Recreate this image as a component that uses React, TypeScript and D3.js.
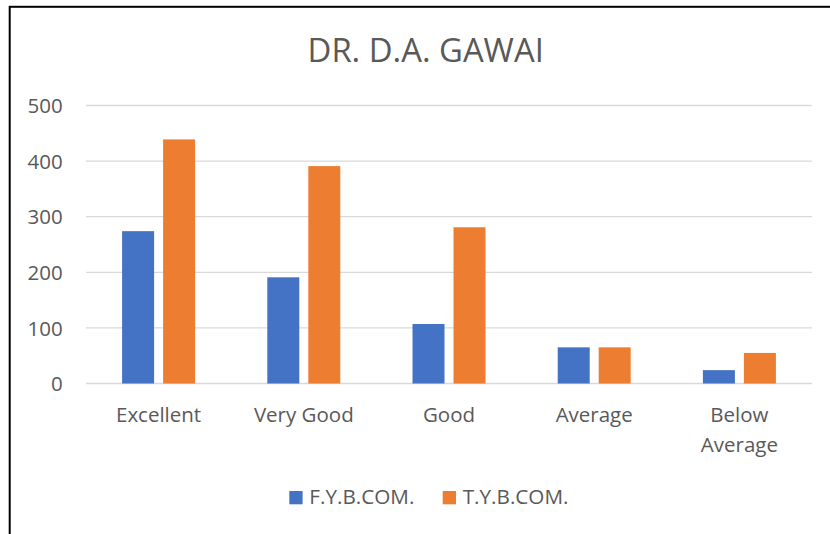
import * as d3 from "d3";
import React from "react";

// chart data
const categories = ["Excellent", "Very Good", "Good", "Average", "Below Average"];
const seriesNames = ["F.Y.B.COM.", "T.Y.B.COM."];
const fybcom = [274, 191, 107, 65, 24];
const tybcom = [439, 391, 281, 65, 55];
const yTicks = [0, 100, 200, 300, 400, 500];
const colors = ["#4472C4", "#ED7D31"];

const W = 830;
const H = 534;
const FONT = "'Open Sans', sans-serif";
const TXT = "#595959";

const App = () => {
  const values = [fybcom, tybcom];

  // scales
  const x0 = d3.scaleBand<string>().domain(categories).range([86, 812]).padding(0);
  const groupW = 73;
  const x1 = d3
    .scaleBand<string>()
    .domain(seriesNames)
    .range([0, groupW])
    .paddingInner(2 - groupW / 41)
    .paddingOuter(0);
  const y = d3.scaleLinear().domain([0, 500]).range([383.5, 105.5]);

  const wrap = (s: string) => (s.length > 10 ? s.split(" ") : [s]);

  return (
    <svg
      width={W}
      height={H}
      style={{ position: "absolute", left: 0, top: 0, background: "#fff" }}
      fontFamily={FONT}
    >
      <rect x={9.7} y={6.8} width={W} height={H} fill="#fff" stroke="#000" strokeWidth={2} />

      <text x={425.7} y={61.7} textAnchor="middle" fontSize={32.8} fill={TXT}>
        DR. D.A. GAWAI
      </text>

      {/* gridlines + y labels */}
      {yTicks.map((t) => (
        <g key={t}>
          <line x1={86} x2={812} y1={y(t)} y2={y(t)} stroke="#D9D9D9" strokeWidth={1.3} />
          <text x={62.7} y={y(t) + 7.6} textAnchor="end" fontSize={20.5} fill={TXT}>
            {t}
          </text>
        </g>
      ))}

      {/* bars */}
      {categories.map((c, i) => {
        const gx = (x0(c) as number) + x0.bandwidth() / 2 - groupW / 2;
        return (
          <g key={c} transform={`translate(${gx},0)`}>
            {seriesNames.map((s, k) => (
              <rect
                key={s}
                x={x1(s)}
                y={y(values[k][i])}
                width={x1.bandwidth()}
                height={y(0) - y(values[k][i])}
                fill={colors[k]}
              />
            ))}
          </g>
        );
      })}

      {/* category labels */}
      {categories.map((c) => (
        <text
          key={c}
          x={(x0(c) as number) + x0.bandwidth() / 2}
          y={421.5}
          textAnchor="middle"
          fontSize={20.5}
          fill={TXT}
        >
          {wrap(c).map((line, j) => (
            <tspan key={j} x={(x0(c) as number) + x0.bandwidth() / 2} dy={j === 0 ? 0 : 30}>
              {line}
            </tspan>
          ))}
        </text>
      ))}

      {/* legend */}
      {seriesNames.map((s, k) => {
        const lx = [289.3, 442.7][k];
        return (
          <g key={s}>
            <rect x={lx} y={491} width={13.3} height={13.3} fill={colors[k]} />
            <text x={lx + 20} y={504.3} fontSize={20.7} fill={TXT}>
              {s}
            </text>
          </g>
        );
      })}
    </svg>
  );
};

export default App;
